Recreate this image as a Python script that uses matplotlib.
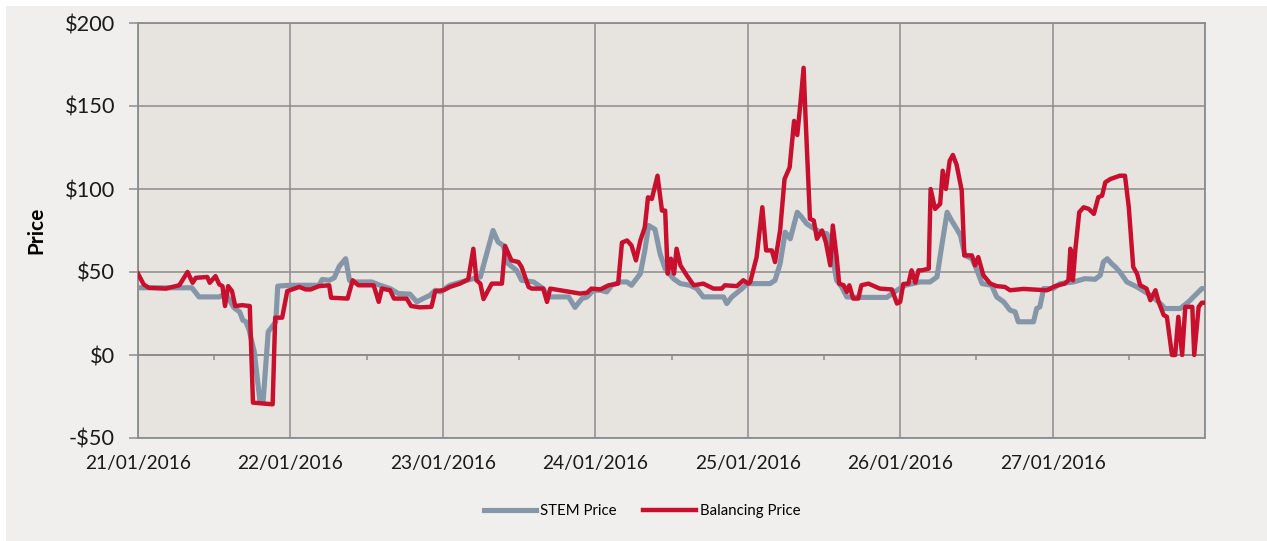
import matplotlib
matplotlib.use("Agg")
import matplotlib.pyplot as plt
from matplotlib.patches import Rectangle

# ---- data (hours since 21/01/2016 00:00, price $) ----
day_labels = ["21/01/2016", "22/01/2016", "23/01/2016", "24/01/2016",
              "25/01/2016", "26/01/2016", "27/01/2016"]
y_ticks = [-50, 0, 50, 100, 150, 200]
y_tick_labels = ["-$50", "$0", "$50", "$100", "$150", "$200"]

stem_hours = [
    0, 8.5, 9.6, 12.8, 13.8, 15.1, 16.0, 16.5, 17.0, 17.5, 18.3, 19.2, 19.7, 20.5, 21.7, 22.0,
    24, 28.5, 29.0, 30.1, 30.9, 31.7, 32.7, 33.3, 33.9, 36.8, 38.1, 39.7, 41, 42.8, 43.9, 44.9, 46, 46.8, 47.6,
    49.1, 51.8, 52.8, 53.9, 54.9, 55.9, 56.7, 57.5, 58.3, 59.6, 60.4, 62.3, 63.8, 64.6, 67.8, 68.8, 69.9, 70.7, 71.7,
    72.8, 73.8, 74.6, 75.9, 77, 77.7, 79.1, 79.8, 80.4, 81.4, 82.2, 83, 84.3, 85.4, 86.9, 88, 89, 92.2, 92.7, 93.5, 95.1, 95.9,
    99.5, 100.3, 101.1, 101.9, 102.7, 103.8, 104.5, 105.3, 106.1, 107.4, 108.5, 109.2, 110, 110.8, 111.6, 113.7, 117.9, 119.5,
    120.8, 123.1, 124.7, 125.8, 126.6, 127.4, 128.1, 128.9, 129.5, 130.2, 131.3, 132.1, 132.9, 134.4, 135.2, 136.3, 137.3, 138.1, 138.6, 141, 141.5, 142, 142.6,
    144.1, 145.2, 147.3, 149.1, 150.7, 151.5, 152, 152.6, 153.3, 153.9, 154.6, 155.7, 157.3, 159.4, 160.7, 161.7, 164.1, 165.4, 166.7, 167.5, 168,
]
stem_price = [
    40.5, 40.5, 35, 35, 37, 28.5, 26, 21, 20, 15, 2, -28, -28, 14, 20, 41.5,
    42, 42, 45.5, 45, 46.5, 53.5, 58, 45, 44, 44, 42, 40, 37, 36.7, 32, 34, 36, 39, 38,
    42, 45, 46, 47, 61, 75, 68, 66, 55, 51, 45, 44, 40, 35, 35, 28.7, 34, 35, 39,
    39, 38, 42, 44, 44, 42, 49, 63, 78, 75.7, 61, 52, 46, 43, 42, 40, 35, 35, 31, 35, 40, 43,
    43, 45, 55, 74, 70, 86, 83, 79, 77, 74, 73, 63, 45, 41, 35, 34.7, 34.7, 39,
    42, 44, 44, 47, 67, 86, 81, 76, 72, 60, 58, 51, 43, 42, 35, 32, 27, 26, 20, 20, 28, 29, 40,
    40, 43, 44, 46, 45.6, 48, 56, 58, 55, 53, 50, 44, 41, 36, 32, 28, 28, 32, 37, 40, 40,
]

bal_hours = [
    0, 0.9, 1.7, 4.4, 5.4, 6.5, 7.8, 8.6, 9.1, 10.9, 11.3, 12.2, 12.8, 13.3, 13.7, 14.2, 14.8, 15.3, 16.4, 17.6, 18.1, 21.2, 21.6, 22.7, 23.5,
    25.4, 26.4, 27.2, 28.5, 30.1, 30.4, 33.0, 33.8, 34.7, 37.1, 37.9, 38.4, 39.7, 40.3, 42.3, 43, 44.4, 46.2, 46.8,
    48.1, 49.1, 50.7, 52, 52.8, 53.3, 53.9, 54.4, 55.7, 57.3, 57.8, 58.8, 59.9, 60.4, 61.5, 62, 63.8, 64.4, 64.9, 66.5, 68, 69.6, 70.7, 71.4,
    72.8, 74.1, 75.6, 76.2, 77, 77.7, 78.4, 79.1, 79.8, 80.3, 80.9, 81.8, 82.5, 83, 83.4, 83.9, 84.4, 84.8, 85.4, 86.4, 87.5, 89, 90.6, 91.9, 92.4, 94.3, 95.3, 96.1,
    96.4, 97.4, 98.3, 98.9, 99.8, 100.3, 101.1, 101.8, 102.6, 103.3, 103.8, 104.3, 104.8, 105.1, 105.8, 106.4, 106.9, 107.7, 108.3, 109, 109.4, 110, 110.4, 111.1, 111.6, 112, 112.6, 113.4, 113.9, 115, 116.8, 118.7, 119.5, 120,
    120.5, 121.3, 121.8, 122.4, 122.9, 123.4, 124.5, 124.8, 125.5, 126.3, 126.7, 127.2, 127.8, 128.3, 128.9, 129.7, 130.1, 131.3, 131.8, 132.3, 133.1, 134.2, 135.2, 136.5, 137.3, 139.4, 143.1,
    143.4, 144.4, 145.9, 146.5, 146.8, 147.2, 147.6, 148.2, 148.9, 149.7, 150.5, 151.2, 151.8, 152.3, 153.1, 154.6, 155.4, 156, 156.7, 157.3, 157.8, 158.8, 159.4, 160.2, 160.7, 161.5, 162, 162.8, 163.3, 163.8, 164.4, 164.9, 166, 166.3, 167, 167.5, 168,
]
bal_price = [
    49, 42.5, 40.5, 40, 41, 42, 50, 43.5, 46.5, 47, 43.5, 47.5, 42.5, 41.5, 29.5, 41.5, 38.5, 29.5, 30, 29.5, -28.7, -29.7, 22.5, 22.5, 38.5,
    41, 39.5, 39.5, 41.5, 42, 34.5, 34, 45, 42, 42, 32, 40, 39, 34, 34, 29.5, 28.7, 29, 38.5,
    39, 41, 43, 45.6, 64, 45, 43, 33.7, 43, 43, 65.7, 57, 56, 53, 41, 40, 40, 32, 40, 39, 38, 37, 37.5, 40,
    39.5, 42, 43, 67.7, 69, 66, 57, 69, 77, 95, 94, 108, 87, 87, 49, 58, 49, 64, 54, 48, 42, 43, 40, 40, 42, 41.5, 45, 43,
    44, 59, 89, 63, 63, 56, 75, 106, 113, 141, 132.5, 151.6, 173, 143.6, 82, 81, 70, 75, 68, 54, 78, 59, 43, 42, 38, 42, 34, 34, 42, 43, 40, 39.5, 31, 32,
    42.8, 43, 51, 43.6, 51, 51, 52, 100, 88, 91, 111, 100, 117, 120.5, 114.5, 99, 60, 60, 54, 59, 48, 43, 41.5, 41, 39, 39.8, 39,
    39.5, 41.5, 43, 45, 64, 45, 64, 86, 89, 88, 85, 95, 96, 104, 106, 108, 108, 89, 53, 49, 42, 40, 33, 39, 32, 24, 23, 0, 0, 23, 0, 29, 29, 0, 29, 31.5, 31.5,
]

# ---- styling ----
STEM_C = "#8496A8"
BAL_C = "#C8102E"
GRID_C = "#8C8C8C"
PLOT_BG = "#E7E4E0"
PANEL_BG = "#F0EFED"
FONT = "Lato"

W, H = 1267, 541
fig = plt.figure(figsize=(W / 100, H / 100), dpi=100, facecolor="white")
fig.patches.append(Rectangle((6 / W, 0), 1 - 6 / W, 1 - 6 / H, transform=fig.transFigure,
                             facecolor=PANEL_BG, edgecolor="none", zorder=-10))

ax = fig.add_axes([138 / W, 1 - 438 / H, (1205 - 138) / W, (438 - 23) / H])
ax.set_facecolor(PLOT_BG)

ax.plot(stem_hours, stem_price, color=STEM_C, lw=3.7, solid_joinstyle="round",
        label="STEM Price", zorder=3)
ax.plot(bal_hours, bal_price, color=BAL_C, lw=3.2, solid_joinstyle="round",
        label="Balancing Price", zorder=4)

ax.set_xlim(0, 168)
ax.set_ylim(-50, 200)
day_ticks = [24 * i for i in range(len(day_labels) + 1)]
ax.set_xticks(day_ticks)
ax.set_xticklabels(day_labels + [""], fontsize=13.8, family=FONT, color="#1a1a1a")
ax.set_yticks(y_ticks)
ax.set_yticklabels(y_tick_labels, fontsize=15.7, family=FONT, color="#1a1a1a")
ax.tick_params(axis="x", length=0, pad=12)
ax.tick_params(axis="y", length=6.5, width=1.1, color=GRID_C, pad=10, direction="out")

ax.grid(True, color=GRID_C, lw=1.1, zorder=1)
ax.set_axisbelow(True)
for s in ax.spines.values():
    s.set_color(GRID_C)
    s.set_linewidth(1.3)

# horizontal axis crossing at $0 with small noon tick marks
sec = ax.secondary_xaxis(0.2)
sec.set_xticks([12 + 24 * i for i in range(7)] + [168])
sec.set_xticklabels([])
sec.tick_params(axis="x", length=3.5, width=1.1, color=GRID_C, direction="out")
sec.spines["bottom"].set_color(GRID_C)
sec.spines["bottom"].set_linewidth(1.3)

ax.set_ylabel("Price", fontsize=15, family=FONT, fontweight="bold", color="black")
ax.yaxis.set_label_coords((46 - 138) / (1205 - 138), 0.5)

fig.legend(loc="center", bbox_to_anchor=(642 / W, 1 - 511 / H), ncol=2, frameon=False,
           prop={"family": FONT, "size": 10.8}, handlelength=3.5, handletextpad=0.28,
           columnspacing=1.75)

fig.savefig("out.png", dpi=100, facecolor=fig.get_facecolor())
